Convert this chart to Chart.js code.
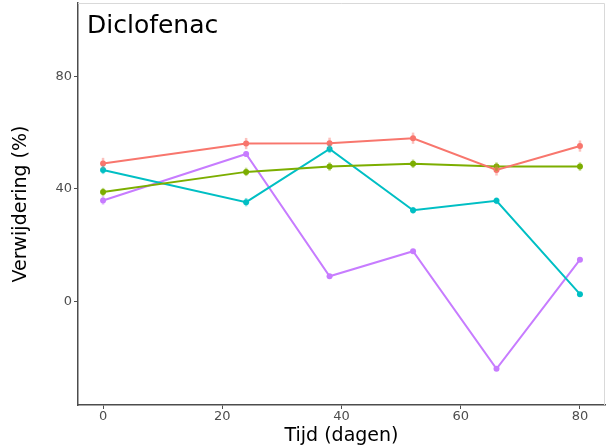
<!DOCTYPE html>
<html>
<head>
<meta charset="utf-8">
<script src="https://cdn.jsdelivr.net/npm/chart.js@4"></script>
<style>
  html, body { margin: 0; padding: 0; background: #fff; }
  #wrap { width: 615px; height: 447px; }
</style>
</head>
<body>
<div id="wrap"><canvas id="c" width="615" height="447"></canvas></div>
<script>
// Sampling days
const days = [0, 24, 38, 52, 66, 80];

// Removal (%) per series, with standard errors
const redValues    = [49.1, 56.2, 56.3, 58.1, 46.8, 55.3];
const redErrors    = [2.0, 2.0, 2.0, 2.0, 2.0, 2.0];
const greenValues  = [38.9, 46.1, 48.0, 49.0, 48.0, 48.0];
const greenErrors  = [1.5, 1.5, 1.5, 1.5, 1.5, 1.5];
const cyanValues   = [46.8, 35.3, 54.3, 32.4, 35.8, 2.5];
const cyanErrors   = [1.5, 1.5, 1.5, 1.2, 1.2, 0.5];
const purpleValues = [35.9, 52.5, 8.9, 17.8, -24.1, 14.8];
const purpleErrors = [1.5, 1.0, 0.5, 0.5, 0.5, 0.5];

const xTicks = [0, 20, 40, 60, 80];
const yTicks = [0, 40, 80];

const seriesDefs = [
  { values: redValues,    errors: redErrors,    color: '#F8766D' },
  { values: greenValues,  errors: greenErrors,  color: '#7CAE00' },
  { values: cyanValues,   errors: cyanErrors,   color: '#00BFC4' },
  { values: purpleValues, errors: purpleErrors, color: '#C77CFF' }
];

function hexAlpha(hex, a) {
  const n = parseInt(hex.slice(1), 16);
  return `rgba(${(n >> 16) & 255},${(n >> 8) & 255},${n & 255},${a})`;
}

const datasets = seriesDefs.map(s => ({
  data: days.map((d, i) => ({ x: d, y: s.values[i] })),
  errors: s.errors,
  borderColor: s.color,
  backgroundColor: s.color,
  borderWidth: 2,
  pointRadius: 3,
  pointBorderWidth: 0,
  pointHoverRadius: 3,
  tension: 0
}));

// Vertical error bars, drawn through the chart's own scales
const errorBars = {
  id: 'errorBars',
  afterDatasetsDraw(chart) {
    const { ctx, scales: { x, y } } = chart;
    ctx.save();
    chart.data.datasets.forEach(ds => {
      ctx.strokeStyle = hexAlpha(ds.borderColor, 0.45);
      ctx.lineWidth = 2.5;
      ds.data.forEach((p, i) => {
        const e = ds.errors[i];
        const px = x.getPixelForValue(p.x);
        ctx.beginPath();
        ctx.moveTo(px, y.getPixelForValue(p.y - e));
        ctx.lineTo(px, y.getPixelForValue(p.y + e));
        ctx.stroke();
      });
    });
    ctx.restore();
  }
};

// Panel outline (light top/right edge) and the panel label
const panelDecor = {
  id: 'panelDecor',
  afterDraw(chart) {
    const { ctx, chartArea: a } = chart;
    ctx.save();
    ctx.strokeStyle = '#D9D9D9';
    ctx.lineWidth = 1;
    ctx.beginPath();
    ctx.moveTo(a.left, a.top + 0.5);
    ctx.lineTo(a.right - 0.5, a.top + 0.5);
    ctx.lineTo(a.right - 0.5, a.bottom);
    ctx.stroke();
    ctx.fillStyle = '#000';
    ctx.font = '25px "DejaVu Sans"';
    ctx.textBaseline = 'alphabetic';
    ctx.textAlign = 'left';
    ctx.fillText('Diclofenac', a.left + 9, a.top + 30);
    ctx.restore();
  }
};

new Chart(document.getElementById('c'), {
  type: 'line',
  data: { datasets },
  plugins: [errorBars, panelDecor],
  options: {
    responsive: false,
    animation: false,
    layout: { padding: { top: 2, right: 10, left: 0, bottom: 0 } },
    plugins: { legend: { display: false }, tooltip: { enabled: false } },
    scales: {
      x: {
        type: 'linear',
        min: -4.2,
        max: 84.2,
        afterFit(scale) { scale.height = 42; scale.paddingLeft = 0; scale.paddingRight = 0; },
        afterBuildTicks(scale) { scale.ticks = xTicks.map(v => ({ value: v })); },
        grid: { display: true, drawOnChartArea: false, drawTicks: true, tickLength: 4, color: '#4D4D4D', lineWidth: 1 },
        border: { display: true, color: '#4D4D4D', width: 1.5 },
        ticks: { color: '#4D4D4D', font: { family: 'DejaVu Sans', size: 13 }, padding: 0, maxRotation: 0 },
        title: { display: true, text: 'Tijd (dagen)', color: '#000', font: { family: 'DejaVu Sans', size: 19 }, padding: { top: 0, bottom: 0 } }
      },
      y: {
        type: 'linear',
        min: -37,
        max: 106.3,
        afterFit(scale) { scale.width = 78; scale.paddingTop = 0; scale.paddingBottom = 0; },
        afterBuildTicks(scale) { scale.ticks = yTicks.map(v => ({ value: v })); },
        grid: { display: true, drawOnChartArea: false, drawTicks: true, tickLength: 4, color: '#4D4D4D', lineWidth: 1 },
        border: { display: true, color: '#4D4D4D', width: 1.5 },
        ticks: { color: '#4D4D4D', font: { family: 'DejaVu Sans', size: 13 }, padding: 2 },
        title: { display: true, text: 'Verwijdering (%)', color: '#000', font: { family: 'DejaVu Sans', size: 19 }, padding: { top: 10, bottom: 0 } }
      }
    }
  }
});
</script>
</body>
</html>
